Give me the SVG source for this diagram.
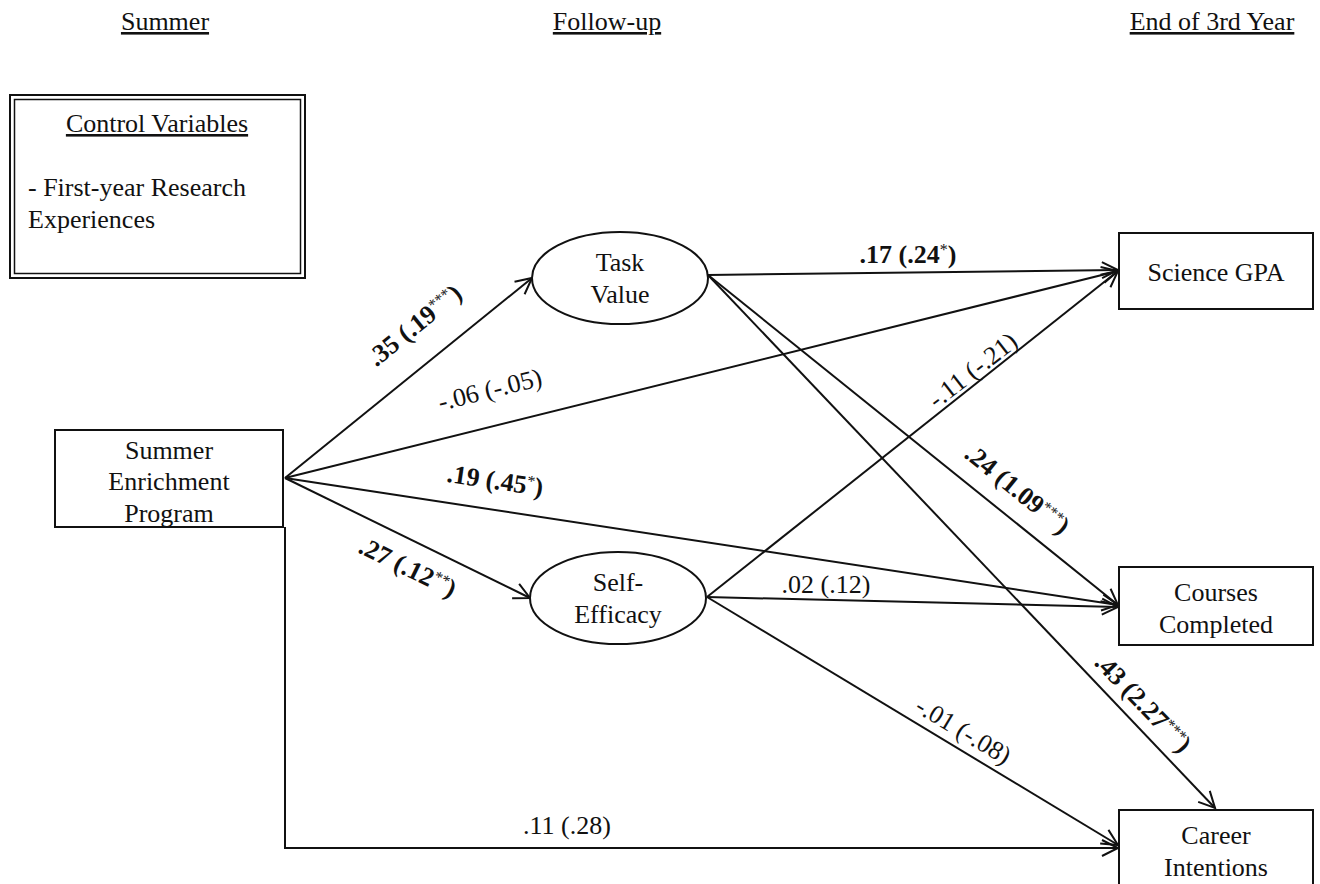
<svg xmlns="http://www.w3.org/2000/svg" width="1320" height="884" viewBox="0 0 1320 884">
<style>
text{font-family:"Liberation Serif","Times New Roman",serif;font-size:26px;fill:#111;}
.c{text-anchor:middle;}
.u{text-decoration:underline;}
.b{font-weight:bold;}
.s{font-size:16px;font-weight:normal;}
.box{fill:#fff;stroke:#111;stroke-width:2;}
.e{fill:#fff;stroke:#111;stroke-width:2;}
.ln{fill:none;stroke:#111;stroke-width:2;}
</style>
<defs>
<marker id="ah" markerWidth="22" markerHeight="22" refX="19" refY="11" orient="auto" markerUnits="userSpaceOnUse">
<path d="M3,3 L19,11 L3,19" fill="none" stroke="#111" stroke-width="2"/>
</marker>
</defs>
<g id="headers">
<text class="c u" x="165" y="30">Summer </text>
<text class="c u" x="607" y="30">Follow-up</text>
<text class="c u" x="1212" y="30">End of 3rd Year</text>
</g>
<g id="control">
<rect x="10" y="95" width="295" height="183" fill="#fff" stroke="#111" stroke-width="2"/>
<rect x="14.5" y="99.5" width="286" height="174" fill="none" stroke="#111" stroke-width="1.5"/>
<text class="c u" x="157" y="132">Control Variables</text>
<text x="28" y="196">- First-year Research</text>
<text x="28" y="228">Experiences</text>
</g>
<g id="connectors">
<line class="ln" x1="285" y1="478" x2="532" y2="278" marker-end="url(#ah)"/>
<line class="ln" x1="285" y1="478" x2="1118" y2="271" marker-end="url(#ah)"/>
<line class="ln" x1="285" y1="478" x2="1118" y2="605" marker-end="url(#ah)"/>
<line class="ln" x1="285" y1="478" x2="530" y2="598" marker-end="url(#ah)"/>
<polyline class="ln" points="285,527 285,848 1118,848" marker-end="url(#ah)"/>
<line class="ln" x1="708" y1="275" x2="1118" y2="270" marker-end="url(#ah)"/>
<line class="ln" x1="708" y1="275" x2="1118" y2="605" marker-end="url(#ah)"/>
<line class="ln" x1="708" y1="275" x2="1215" y2="808" marker-end="url(#ah)"/>
<line class="ln" x1="707" y1="597" x2="1118" y2="271" marker-end="url(#ah)"/>
<line class="ln" x1="707" y1="597" x2="1118" y2="607" marker-end="url(#ah)"/>
<line class="ln" x1="707" y1="597" x2="1118" y2="845" marker-end="url(#ah)"/>
</g>
<g id="labels">
<text class="c b" transform="translate(420,332) rotate(-39)">.35 (.19<tspan class="s" baseline-shift="super">***</tspan>)</text>
<text class="c" transform="translate(492,398) rotate(-14)">-.06 (-.05)</text>
<text class="c b" transform="translate(494,489) rotate(8.5)">.19 (.45<tspan class="s" baseline-shift="super">*</tspan>)</text>
<text class="c b" transform="translate(404,575) rotate(26)">.27 (.12<tspan class="s" baseline-shift="super">**</tspan>)</text>
<text class="c" x="567" y="834">.11 (.28)</text>
<text class="c b" x="908" y="263">.17 (.24<tspan class="s" baseline-shift="super">*</tspan>)</text>
<text class="c b" transform="translate(1012,496) rotate(39)">.24 (1.09<tspan class="s" baseline-shift="super">***</tspan>)</text>
<text class="c b" transform="translate(1137,709) rotate(46)">.43 (2.27<tspan class="s" baseline-shift="super">***</tspan>)</text>
<text class="c" transform="translate(978,377) rotate(-38)">-.11 (-.21)</text>
<text class="c" x="826" y="593">.02 (.12)</text>
<text class="c" transform="translate(959,738) rotate(31)">-.01 (-.08)</text>
</g>
<g id="sep">
<rect class="box" x="55" y="430" width="228" height="97"/>
<text class="c" x="169" y="459">Summer</text>
<text class="c" x="169" y="490">Enrichment</text>
<text class="c" x="169" y="522">Program</text>
</g>
<g id="taskvalue">
<ellipse class="e" cx="620" cy="278" rx="88" ry="46"/>
<text class="c" x="620" y="271">Task</text>
<text class="c" x="620" y="303">Value</text>
</g>
<g id="selfefficacy">
<ellipse class="e" cx="618" cy="598" rx="88" ry="46"/>
<text class="c" x="618" y="591">Self-</text>
<text class="c" x="618" y="623">Efficacy</text>
</g>
<g id="sciencegpa">
<rect class="box" x="1119" y="233" width="194" height="76"/>
<text class="c" x="1216" y="281">Science GPA</text>
</g>
<g id="courses">
<rect class="box" x="1119" y="567" width="194" height="78"/>
<text class="c" x="1216" y="601">Courses</text>
<text class="c" x="1216" y="633">Completed</text>
</g>
<g id="career">
<rect class="box" x="1119" y="810" width="194" height="90"/>
<text class="c" x="1216" y="844">Career</text>
<text class="c" x="1216" y="876">Intentions</text>
</g>
</svg>
